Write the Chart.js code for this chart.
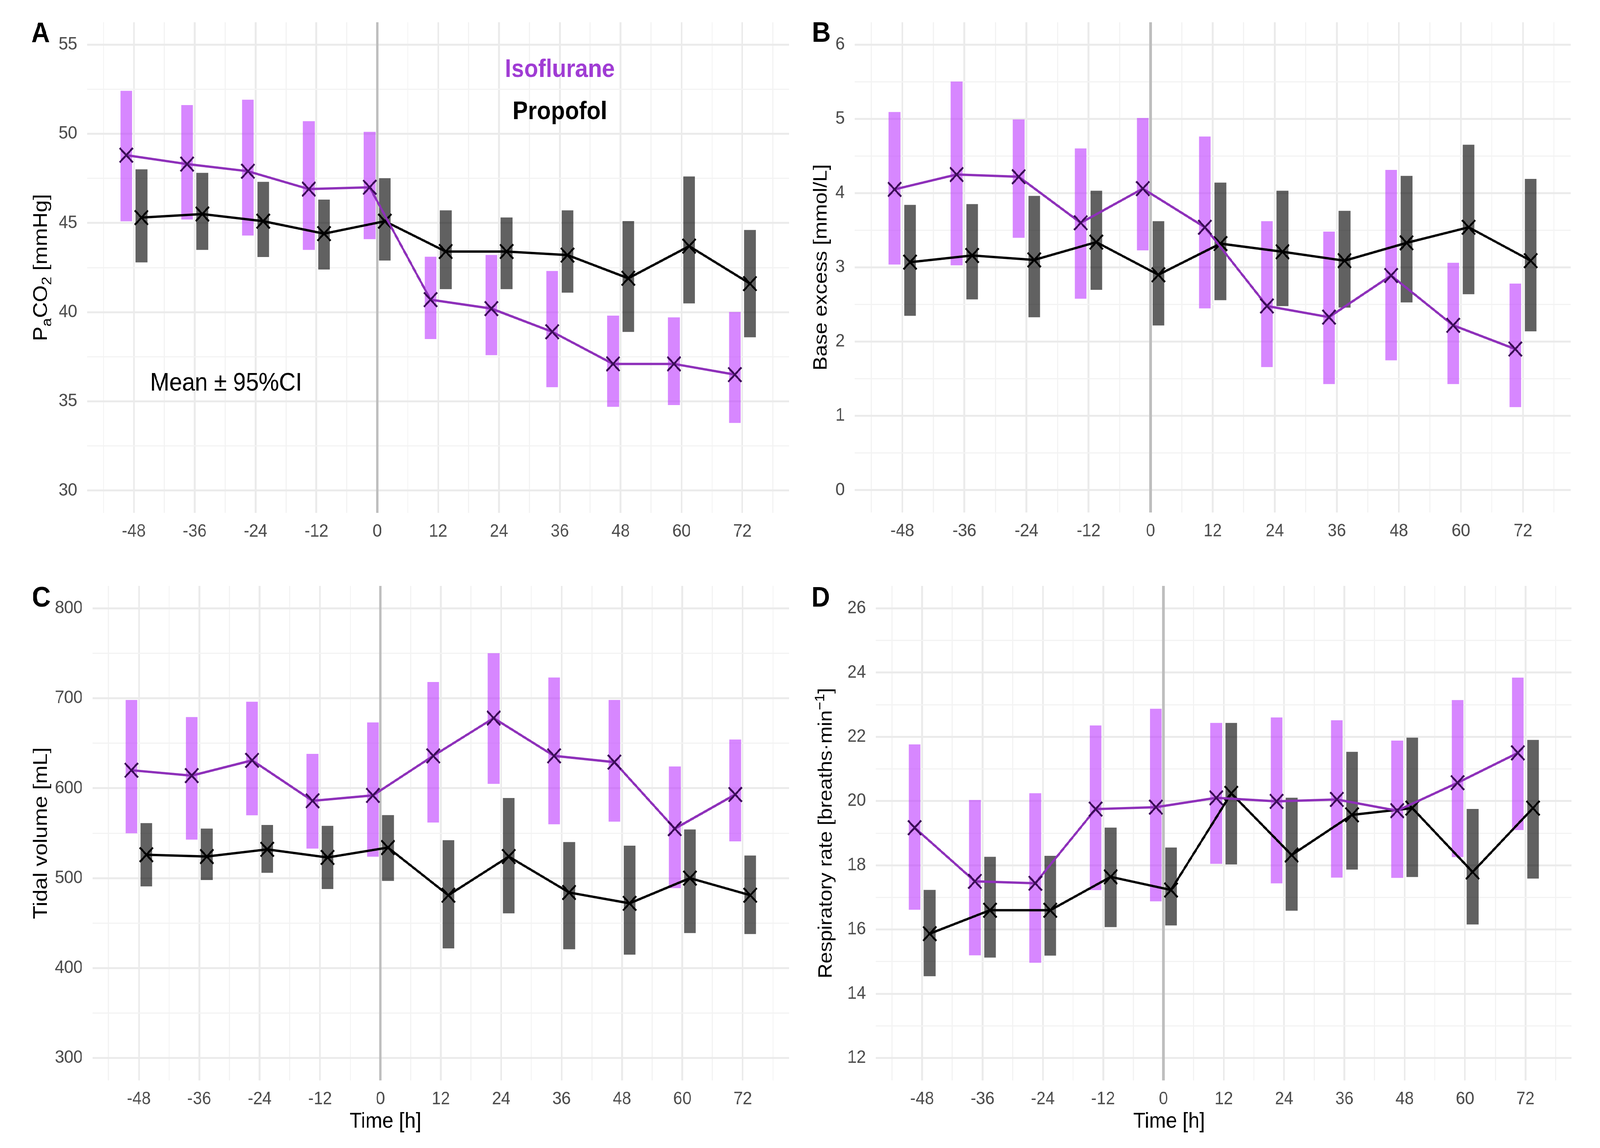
<!DOCTYPE html>
<html>
<head>
<meta charset="utf-8">
<script src="https://cdn.jsdelivr.net/npm/chart.js@4.4.1/dist/chart.umd.min.js"></script>
<style>
  html, body { margin: 0; padding: 0; background: #fff; overflow: hidden; }
  #fig { position: relative; width: 4459px; height: 2939px; background: #fff; transform-origin: 0 0; }
  canvas { position: absolute; }
</style>
</head>
<body>
<div id="fig">
  <canvas id="chartA" style="left:0px;top:0px" width="2230" height="1440"></canvas>
  <canvas id="chartB" style="left:2230px;top:0px" width="2229" height="1440"></canvas>
  <canvas id="chartC" style="left:0px;top:1440px" width="2230" height="1499"></canvas>
  <canvas id="chartD" style="left:2230px;top:1440px" width="2229" height="1499"></canvas>
</div>
<script>
// time points (h) and tick labels
const hours = [-48, -36, -24, -12, 0, 12, 24, 36, 48, 60, 72];

// A: PaCO2 [mmHg]
const paco2Ticks = [30, 35, 40, 45, 50, 55];
const paco2Iso   = [48.8, 48.3, 47.9, 46.9, 47.0, 40.7, 40.2, 38.9, 37.1, 37.1, 36.5];
const paco2IsoLo = [45.1, 45.2, 44.3, 43.5, 44.1, 38.5, 37.6, 35.8, 34.7, 34.8, 33.8];
const paco2IsoHi = [52.4, 51.6, 51.9, 50.7, 50.1, 43.1, 43.2, 42.3, 39.8, 39.7, 40.0];
const paco2Pro   = [45.3, 45.5, 45.1, 44.4, 45.1, 43.4, 43.4, 43.2, 41.9, 43.7, 41.6];
const paco2ProLo = [42.8, 43.5, 43.1, 42.4, 42.9, 41.3, 41.3, 41.1, 38.9, 40.5, 38.6];
const paco2ProHi = [48.0, 47.8, 47.3, 46.3, 47.5, 45.7, 45.3, 45.7, 45.1, 47.6, 44.6];

// B: base excess [mmol/L]
const beTicks = [0, 1, 2, 3, 4, 5, 6];
const beIso   = [4.05, 4.25, 4.22, 3.60, 4.06, 3.54, 2.48, 2.33, 2.89, 2.22, 1.90];
const beIsoLo = [3.04, 3.03, 3.40, 2.58, 3.23, 2.45, 1.66, 1.43, 1.75, 1.43, 1.12];
const beIsoHi = [5.09, 5.50, 4.99, 4.60, 5.01, 4.76, 3.62, 3.48, 4.31, 3.06, 2.78];
const bePro   = [3.07, 3.16, 3.10, 3.34, 2.90, 3.32, 3.21, 3.09, 3.33, 3.54, 3.09];
const beProLo = [2.35, 2.57, 2.33, 2.70, 2.22, 2.56, 2.48, 2.46, 2.53, 2.64, 2.14];
const beProHi = [3.84, 3.85, 3.96, 4.03, 3.62, 4.14, 4.03, 3.76, 4.23, 4.65, 4.19];

// C: tidal volume [mL]
const tvTicks = [300, 400, 500, 600, 700, 800];
const tvIso   = [620, 614, 631, 586, 592, 636, 678, 636, 629, 555, 593];
const tvIsoLo = [550, 543, 570, 533, 524, 562, 605, 560, 563, 489, 541];
const tvIsoHi = [698, 679, 696, 638, 673, 718, 750, 723, 698, 624, 654];
const tvPro   = [526, 524, 532, 523, 534, 481, 524, 484, 472, 500, 481];
const tvProLo = [491, 498, 506, 488, 497, 422, 461, 421, 415, 439, 438];
const tvProHi = [561, 555, 559, 558, 570, 542, 589, 540, 536, 554, 525];

// D: respiratory rate [breaths/min]
const rrTicks = [12, 14, 16, 18, 20, 22, 24, 26];
const rrIso   = [19.17, 17.50, 17.44, 19.75, 19.81, 20.10, 19.99, 20.05, 19.70, 20.57, 21.50];
const rrIsoLo = [16.62, 15.20, 14.97, 17.23, 16.88, 18.05, 17.44, 17.62, 17.61, 18.26, 19.10];
const rrIsoHi = [21.76, 20.03, 20.24, 22.35, 22.87, 22.43, 22.60, 22.51, 21.88, 23.14, 23.84];
const rrPro   = [15.87, 16.60, 16.60, 17.64, 17.23, 20.24, 18.32, 19.57, 19.78, 17.79, 19.78];
const rrProLo = [14.55, 15.13, 15.19, 16.08, 16.13, 18.03, 16.59, 17.87, 17.64, 16.16, 17.59];
const rrProHi = [17.23, 18.26, 18.29, 19.17, 18.55, 22.43, 20.10, 21.53, 21.97, 19.75, 21.90];

const isoFill = 'rgba(191, 62, 255, 0.62)';
const proFill = 'rgba(0, 0, 0, 0.62)';
const isoLine = '#8e30ba';
const isoMark = '#3b0d57';
const isoText = '#a03cd4';
const tickColor = '#4d4d4d';
const dodge = 1.5;
const xMin = -57.2, xMax = 81.2;
const fontStack = '"Liberation Sans", Arial, Helvetica, sans-serif';

Chart.defaults.font.family = fontStack;

// fit the 4459x2939 figure into whatever the browser actually shows
(function () {
    var vw = Math.min(window.innerWidth || 4459, 4096);
    var vh = window.innerHeight || 2939;
    var sx = Math.min(vw / 4459, 1), sy = Math.min(vh / 2939, 1);
    document.getElementById('fig').style.transform = 'scale(' + sx + ',' + sy + ')';
})();

// major ticks + the minor lines half way between them
function withMinor(ticks, lo, hi) {
    var step = ticks[1] - ticks[0];
    var out = [];
    for (var i = -1; i < ticks.length; i++) {
        var base = i < 0 ? ticks[0] - step : ticks[i];
        [base, base + step / 2].forEach(v => { if (v >= lo && v <= hi) out.push(v); });
    }
    return out.filter((v, i, a) => a.indexOf(v) === i).sort((a, b) => a - b);
}

function drawParts(ctx, parts, size, weight) {
    var fonts = parts.map(pt => weight + ' ' + (pt.shift ? size * 0.7 : size) + 'px ' + fontStack);
    var widths = parts.map((pt, i) => { ctx.font = fonts[i]; return ctx.measureText(pt.text).width; });
    var pos = -widths.reduce((s, w) => s + w, 0) / 2;
    parts.forEach((pt, i) => {
        ctx.font = fonts[i];
        ctx.fillText(pt.text, pos, (pt.shift || 0) * size);
        pos += widths[i];
    });
}

function textPlugin(t) {
    return {
        id: 'panelText',
        beforeDatasetsDraw(chart) {
            var ctx = chart.ctx, a = chart.chartArea, x0 = chart.scales.x.getPixelForValue(0);
            ctx.save();
            ctx.strokeStyle = '#bebebe';
            ctx.lineWidth = 7;
            ctx.beginPath();
            ctx.moveTo(x0, a.top);
            ctx.lineTo(x0, a.bottom);
            ctx.stroke();
            ctx.restore();
        },
        afterDraw(chart) {
            var ctx = chart.ctx, a = chart.chartArea;
            ctx.save();
            ctx.fillStyle = '#000';
            ctx.textBaseline = 'alphabetic';
            ctx.textAlign = 'left';
            ctx.font = 'bold 72px ' + fontStack;
            ctx.fillText(t.letter, t.letterX, t.letterY);

            ctx.save();
            ctx.translate(t.titleX, (a.top + a.bottom) / 2);
            ctx.rotate(-Math.PI / 2);
            drawParts(ctx, t.yTitle, t.titleSize || 56, 'normal');
            ctx.restore();

            if (t.xTitle) {
                ctx.save();
                ctx.translate(t.xTitle.x, t.xTitle.y);
                drawParts(ctx, [{ text: t.xTitle.text }], 56, 'normal');
                ctx.restore();
            }

            (t.notes || []).forEach(n => {
                ctx.save();
                ctx.fillStyle = n.color;
                ctx.translate(chart.scales.x.getPixelForValue(n.x), chart.scales.y.getPixelForValue(n.y));
                drawParts(ctx, [{ text: n.text }], 64, n.bold ? 'bold' : 'normal');
                ctx.restore();
            });
            ctx.restore();
        }
    };
}

function makePanel(p) {
    var canvas = document.getElementById(p.id);
    var span = p.yTicks[p.yTicks.length - 1] - p.yTicks[0];
    var yLo = p.yTicks[0] - 0.05 * span;
    var yHi = p.yTicks[p.yTicks.length - 1] + 0.05 * span;
    var xGrid = withMinor(hours, xMin, xMax);
    var yGrid = withMinor(p.yTicks, yLo, yHi);

    var pts = (vals, off) => hours.map((h, i) => ({ x: h + off, y: vals[i] }));
    var bars = (lo, hi, off) => hours.map((h, i) => ({ x: h + off, y: [lo[i], hi[i]] }));

    return new Chart(canvas.getContext('2d'), {
        type: 'bar',
        data: {
            datasets: [{
                type: 'line',
                data: pts(p.iso, -dodge),
                borderColor: isoLine,
                borderWidth: 6,
                pointStyle: 'crossRot',
                pointRadius: 26,
                pointBorderWidth: 5,
                pointBorderColor: isoMark,
                pointBackgroundColor: 'rgba(0,0,0,0)',
                order: 0
            }, {
                type: 'line',
                data: pts(p.pro, dodge),
                borderColor: '#000',
                borderWidth: 6,
                pointStyle: 'crossRot',
                pointRadius: 26,
                pointBorderWidth: 5,
                pointBorderColor: '#000',
                pointBackgroundColor: 'rgba(0,0,0,0)',
                order: 0
            }, {
                data: bars(p.isoLo, p.isoHi, -dodge),
                backgroundColor: isoFill,
                barThickness: 32,
                grouped: false,
                order: 1
            }, {
                data: bars(p.proLo, p.proHi, dodge),
                backgroundColor: proFill,
                barThickness: 32,
                grouped: false,
                order: 1
            }]
        },
        options: {
            responsive: false,
            animation: false,
            devicePixelRatio: 1,
            layout: {
                padding: {
                    left: 0,
                    top: p.area.top,
                    right: canvas.width - p.area.right,
                    bottom: canvas.height - p.area.bottom - 100
                }
            },
            plugins: {
                legend: { display: false },
                tooltip: { enabled: false }
            },
            scales: {
                x: {
                    type: 'linear',
                    min: xMin,
                    max: xMax,
                    offset: false,
                    afterBuildTicks: s => { s.ticks = xGrid.map(v => ({ value: v })); },
                    afterFit: s => { s.height = 100; },
                    ticks: {
                        autoSkip: false,
                        maxRotation: 0,
                        padding: 21,
                        color: tickColor,
                        font: { size: 46 },
                        callback: v => hours.includes(v) ? String(v) : ''
                    },
                    grid: {
                        offset: false,
                        drawTicks: false,
                        color: c => hours.includes(c.tick.value) ? '#ebebeb' : '#f3f3f3',
                        lineWidth: c => hours.includes(c.tick.value) ? 5 : 3
                    },
                    border: { display: false }
                },
                y: {
                    type: 'linear',
                    min: yLo,
                    max: yHi,
                    afterBuildTicks: s => { s.ticks = yGrid.map(v => ({ value: v })); },
                    afterFit: s => { s.width = p.area.left; },
                    ticks: {
                        autoSkip: false,
                        padding: 28,
                        color: tickColor,
                        font: { size: 46 },
                        callback: v => p.yTicks.includes(v) ? String(v) : ''
                    },
                    grid: {
                        drawTicks: false,
                        color: c => p.yTicks.includes(c.tick.value) ? '#ebebeb' : '#f3f3f3',
                        lineWidth: c => p.yTicks.includes(c.tick.value) ? 5 : 3
                    },
                    border: { display: false }
                }
            }
        },
        plugins: [textPlugin(p.text)]
    });
}

makePanel({
    id: 'chartA', yTicks: paco2Ticks,
    iso: paco2Iso, isoLo: paco2IsoLo, isoHi: paco2IsoHi,
    pro: paco2Pro, proLo: paco2ProLo, proHi: paco2ProHi,
    area: { left: 243, right: 2207, top: 57, bottom: 1313 },
    text: {
        letter: 'A', letterX: 87, letterY: 108, titleX: 131,
        yTitle: [{ text: 'P' }, { text: 'a', shift: 0.22 }, { text: 'CO' }, { text: '2', shift: 0.22 }, { text: ' [mmHg]' }],
        notes: [
            { text: 'Isoflurane', x: 36, y: 53.18, color: isoText, bold: true },
            { text: 'Propofol', x: 36, y: 50.82, color: '#000', bold: true },
            { text: 'Mean \u00b1 95%CI', x: -29.8, y: 35.6, color: '#000', bold: false }
        ]
    }
});

makePanel({
    id: 'chartB', yTicks: beTicks,
    iso: beIso, isoLo: beIsoLo, isoHi: beIsoHi,
    pro: bePro, proLo: beProLo, proHi: beProHi,
    area: { left: 152, right: 2147, top: 57, bottom: 1312 },
    text: {
        letter: 'B', letterX: 33, letterY: 107, titleX: 74, titleSize: 54,
        yTitle: [{ text: 'Base excess [mmol/L]' }]
    }
});

makePanel({
    id: 'chartC', yTicks: tvTicks,
    iso: tvIso, isoLo: tvIsoLo, isoHi: tvIsoHi,
    pro: tvPro, proLo: tvProLo, proHi: tvProHi,
    area: { left: 258, right: 2208, top: 60, bottom: 1326 },
    text: {
        letter: 'C', letterX: 89, letterY: 113, titleX: 131,
        yTitle: [{ text: 'Tidal volume [mL]' }],
        xTitle: { text: 'Time [h]', x: 1074, y: 1447 }
    }
});

makePanel({
    id: 'chartD', yTicks: rrTicks,
    iso: rrIso, isoLo: rrIsoLo, isoHi: rrIsoHi,
    pro: rrPro, proLo: rrProLo, proHi: rrProHi,
    area: { left: 211, right: 2150, top: 60, bottom: 1326 },
    text: {
        letter: 'D', letterX: 31, letterY: 113, titleX: 88, titleSize: 53,
        yTitle: [{ text: 'Respiratory rate [breaths\u00b7min' }, { text: '\u22121', shift: -0.4 }, { text: ']' }],
        xTitle: { text: 'Time [h]', x: 1028, y: 1447 }
    }
});
</script>
</body>
</html>
